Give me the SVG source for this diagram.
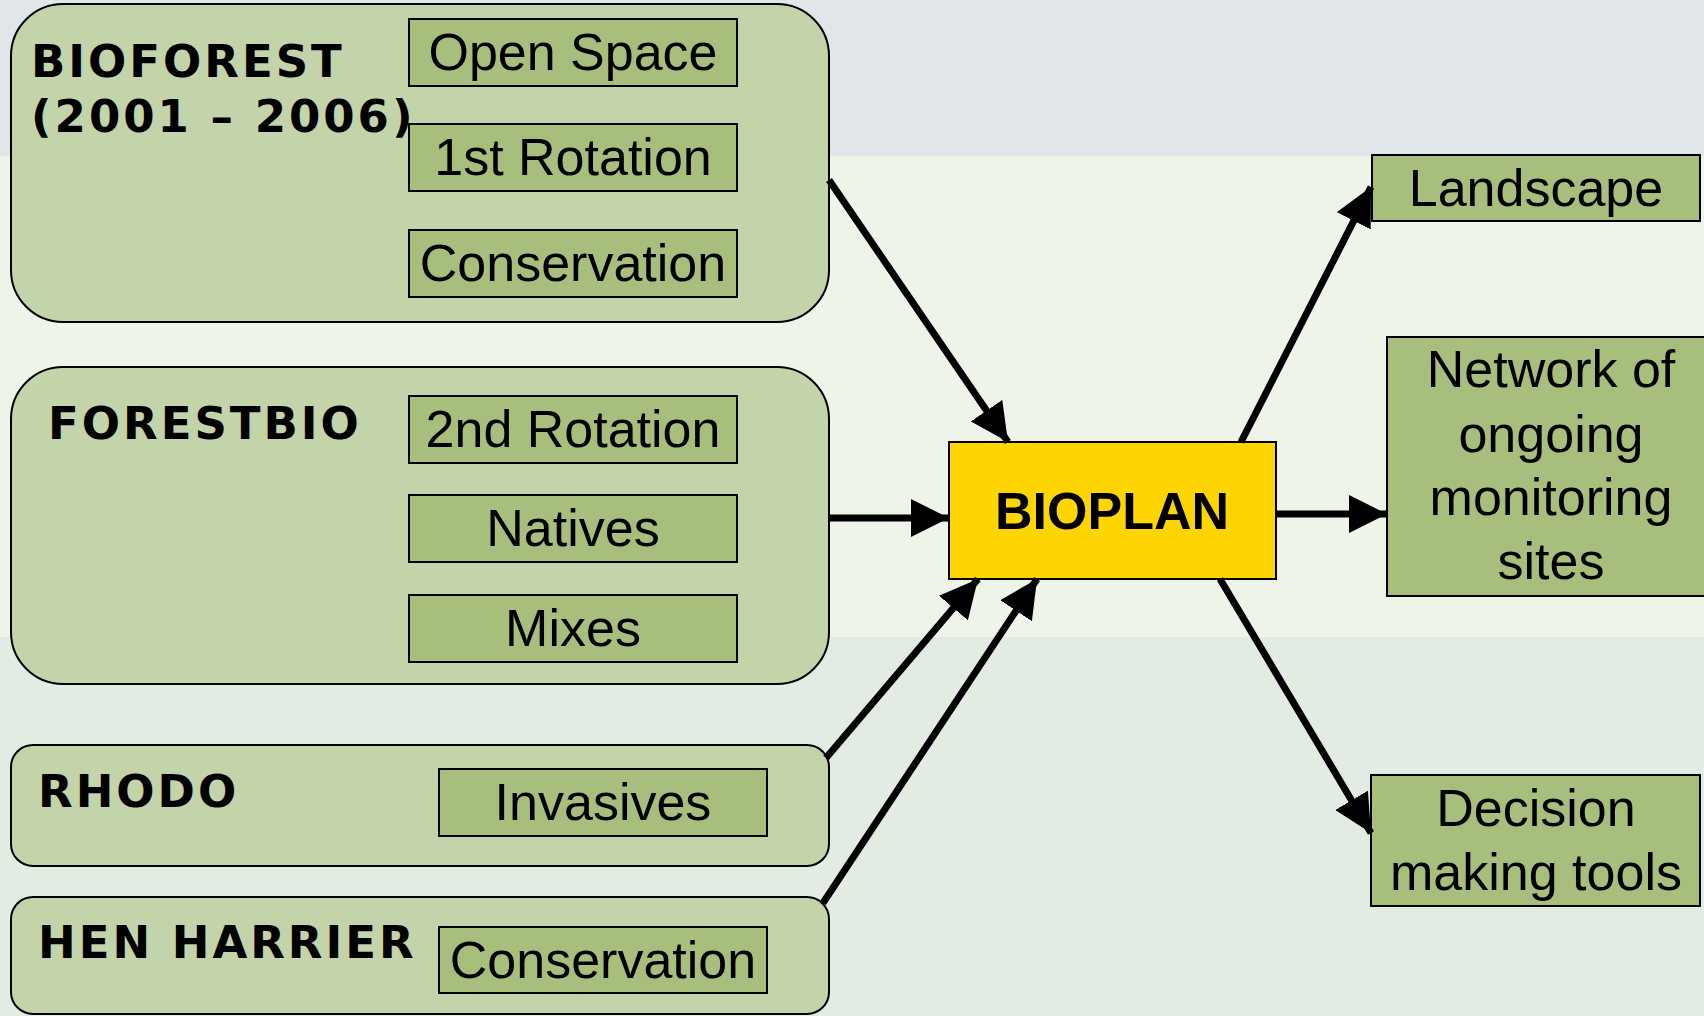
<svg xmlns="http://www.w3.org/2000/svg" width="1704" height="1016" viewBox="0 0 1704 1016">
  <style>
    .group { fill: #C4D4AA; stroke: #000; stroke-width: 2; }
    .item { fill: #A8BE7D; stroke: #000; stroke-width: 2; }
    .hub { fill: #FFD500; stroke: #000; stroke-width: 2; }
    .title { font-family: "DejaVu Sans", Verdana, sans-serif; font-weight: bold; font-size: 45px; letter-spacing: 3px; fill: #000; }
    .label { font-family: "Liberation Sans", Arial, sans-serif; font-size: 52px; fill: #000; text-anchor: middle; }
    .hubtext { font-family: "Liberation Sans", Arial, sans-serif; font-weight: bold; font-size: 52px; fill: #000; text-anchor: middle; }
    .link { stroke: #000; stroke-width: 7; fill: none; marker-end: url(#head); }
  </style>
  <defs>
    <marker id="head" markerUnits="userSpaceOnUse" markerWidth="38" markerHeight="38" viewBox="0 0 36 36" refX="36" refY="18" orient="auto">
      <path d="M0,0 L36,18 L0,36 Z" fill="#000"/>
    </marker>
  </defs>

  <!-- background bands -->
  <rect x="0" y="0" width="1704" height="156" fill="#E1E6EA"/>
  <rect x="0" y="156" width="1704" height="481" fill="#EEF4E8"/>
  <rect x="0" y="637" width="1704" height="379" fill="#E2ECE3"/>

  <g id="bioforest">
    <rect class="group" x="11" y="4" width="818" height="318" rx="52" ry="52"/>
    <text class="title" x="31" y="77">BIOFOREST</text>
    <text class="title" x="31" y="132">(2001 – 2006)</text>
    <rect class="item" x="409" y="19" width="328" height="67"/>
    <text class="label" x="573" y="70">Open Space</text>
    <rect class="item" x="409" y="124" width="328" height="67"/>
    <text class="label" x="573" y="175">1st Rotation</text>
    <rect class="item" x="409" y="230" width="328" height="67"/>
    <text class="label" x="573" y="281">Conservation</text>
  </g>

  <g id="forestbio">
    <rect class="group" x="11" y="367" width="818" height="317" rx="52" ry="52"/>
    <text class="title" x="48" y="439">FORESTBIO</text>
    <rect class="item" x="409" y="396" width="328" height="67"/>
    <text class="label" x="573" y="447">2nd Rotation</text>
    <rect class="item" x="409" y="495" width="328" height="67"/>
    <text class="label" x="573" y="546">Natives</text>
    <rect class="item" x="409" y="595" width="328" height="67"/>
    <text class="label" x="573" y="646">Mixes</text>
  </g>

  <g id="rhodo">
    <rect class="group" x="11" y="745" width="818" height="121" rx="22" ry="22"/>
    <text class="title" x="38" y="807">RHODO</text>
    <rect class="item" x="439" y="769" width="328" height="67"/>
    <text class="label" x="603" y="820">Invasives</text>
  </g>

  <g id="hen-harrier">
    <rect class="group" x="11" y="897" width="818" height="117" rx="22" ry="22"/>
    <text class="title" x="38" y="958">HEN HARRIER</text>
    <rect class="item" x="439" y="927" width="328" height="66"/>
    <text class="label" x="603" y="978">Conservation</text>
  </g>

  <g id="bioplan">
    <rect class="hub" x="949" y="442" width="327" height="137"/>
    <text class="hubtext" x="1112" y="529">BIOPLAN</text>
  </g>

  <g id="landscape">
    <rect class="item" x="1372" y="155" width="328" height="66"/>
    <text class="label" x="1536" y="206">Landscape</text>
  </g>

  <g id="network">
    <rect class="item" x="1387" y="337" width="330" height="259"/>
    <text class="label" x="1551" y="387">Network of</text>
    <text class="label" x="1551" y="452">ongoing</text>
    <text class="label" x="1551" y="515">monitoring</text>
    <text class="label" x="1551" y="579">sites</text>
  </g>

  <g id="decision">
    <rect class="item" x="1371" y="775" width="329" height="131"/>
    <text class="label" x="1536" y="826">Decision</text>
    <text class="label" x="1536" y="890">making tools</text>
  </g>

  <g id="connectors">
    <line class="link" x1="829" y1="180" x2="1008" y2="442"/>
    <line class="link" x1="829" y1="518" x2="949" y2="518"/>
    <line class="link" x1="826" y1="758" x2="978" y2="579"/>
    <line class="link" x1="823" y1="903" x2="1037" y2="579"/>
    <line class="link" x1="1241" y1="442" x2="1371" y2="187"/>
    <line class="link" x1="1276" y1="514" x2="1387" y2="514"/>
    <line class="link" x1="1220" y1="579" x2="1371" y2="833"/>
  </g>
</svg>
